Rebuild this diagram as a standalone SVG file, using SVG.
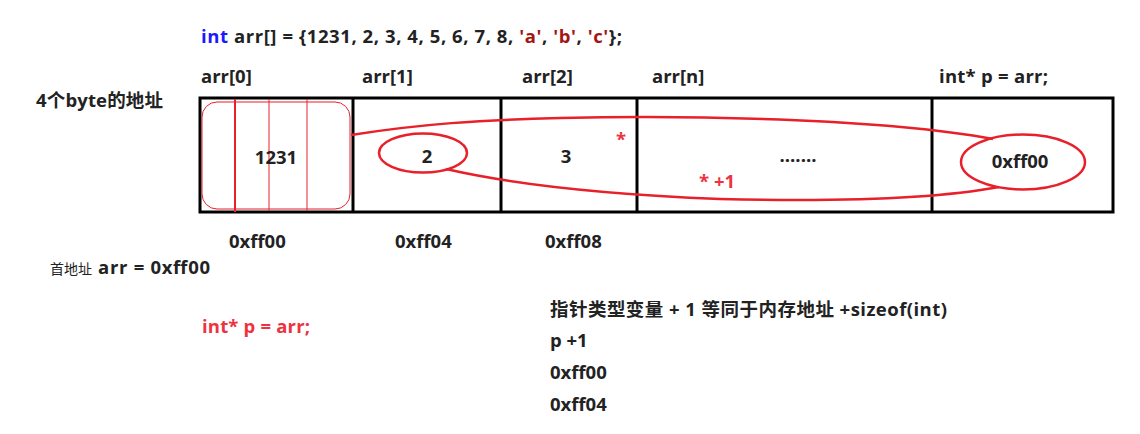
<svg xmlns="http://www.w3.org/2000/svg" width="1140" height="434" viewBox="0 0 1140 434">
<style>
text{font-family:"Open Sans","Noto Sans CJK SC",sans-serif;font-weight:bold;font-size:18.5px;fill:#222}
.red{fill:#ee3340}
.kw{fill:#1a1aff}
.str{fill:#a31515}
.sm{font-weight:normal;font-size:14px;font-family:"Noto Sans CJK SC",sans-serif}
.cell{fill:none;stroke:#000;stroke-width:3}
.rl{fill:none;stroke:#e8202a;stroke-width:2.5}
.thin{fill:none;stroke:#e8202a;stroke-width:1}
</style>
<rect width="1140" height="434" fill="#fff"/>
<g id="code">
<text x="201" y="43" textLength="421" lengthAdjust="spacing"><tspan class="kw">int</tspan> arr[] = {1231, 2, 3, 4, 5, 6, 7, 8, <tspan class="str">'a'</tspan>, <tspan class="str">'b'</tspan>, <tspan class="str">'c'</tspan>};</text>
</g>
<g id="labels">
<text x="201" y="83">arr[0]</text>
<text x="362" y="83">arr[1]</text>
<text x="522" y="83">arr[2]</text>
<text x="652" y="83">arr[n]</text>
<text x="939" y="83" textLength="109" lengthAdjust="spacing">int* p = arr;</text>
<text x="36" y="107" textLength="127" lengthAdjust="spacing">4个byte的地址</text>
</g>
<g id="array">
<rect class="cell" x="200" y="98" width="913" height="114"/>
<line class="cell" x1="353" y1="98" x2="353" y2="212"/>
<line class="cell" x1="501" y1="98" x2="501" y2="212"/>
<line class="cell" x1="637" y1="98" x2="637" y2="212"/>
<line class="cell" x1="932" y1="98" x2="932" y2="212"/>
</g>
<g id="cell0">
<rect class="thin" x="202" y="102" width="148" height="107" rx="15"/>
<line x1="235" y1="99" x2="235" y2="212" stroke="#e8202a" stroke-width="2"/>
<line class="thin" x1="269" y1="99" x2="269" y2="211"/>
<line class="thin" x1="307" y1="99" x2="307" y2="211"/>
<text x="276" y="164" text-anchor="middle">1231</text>
</g>
<g id="cell1">
<ellipse class="rl" cx="423" cy="153" rx="44" ry="19.5"/>
<text x="427" y="163" text-anchor="middle">2</text>
</g>
<g id="cell2">
<text x="566" y="163" text-anchor="middle">3</text>
<text class="red" x="621" y="146" text-anchor="middle" font-size="13">*</text>
</g>
<g id="celln">
<text x="798" y="162" text-anchor="middle">.......</text>
<text class="red" x="699" y="188">*  +1</text>
</g>
<g id="cellp">
<ellipse class="rl" cx="1023" cy="162" rx="62" ry="27.5"/>
<text x="1020" y="168" text-anchor="middle">0xff00</text>
</g>
<g id="connectors">
<path class="rl" d="M351 135 C 420 124, 480 120, 560 118 C 680 115, 880 118, 993 139"/>
<path class="rl" d="M446 169 C 520 186, 620 195, 720 199 C 840 202, 940 198, 999 187"/>
</g>
<g id="addresses">
<text x="229" y="248">0xff00</text>
<text x="395" y="248">0xff04</text>
<text x="545" y="248">0xff08</text>
<text class="sm" x="50" y="274">首地址</text>
<text x="98" y="274" textLength="112" lengthAdjust="spacing">arr = 0xff00</text>
<text class="red" x="202" y="333" textLength="108" lengthAdjust="spacing">int* p = arr;</text>
</g>
<g id="notes">
<text x="550" y="316" textLength="397" lengthAdjust="spacing">指针类型变量 + 1 等同于内存地址 +sizeof(int)</text>
<text x="550" y="347">p +1</text>
<text x="550" y="379">0xff00</text>
<text x="550" y="411">0xff04</text>
</g>
</svg>
